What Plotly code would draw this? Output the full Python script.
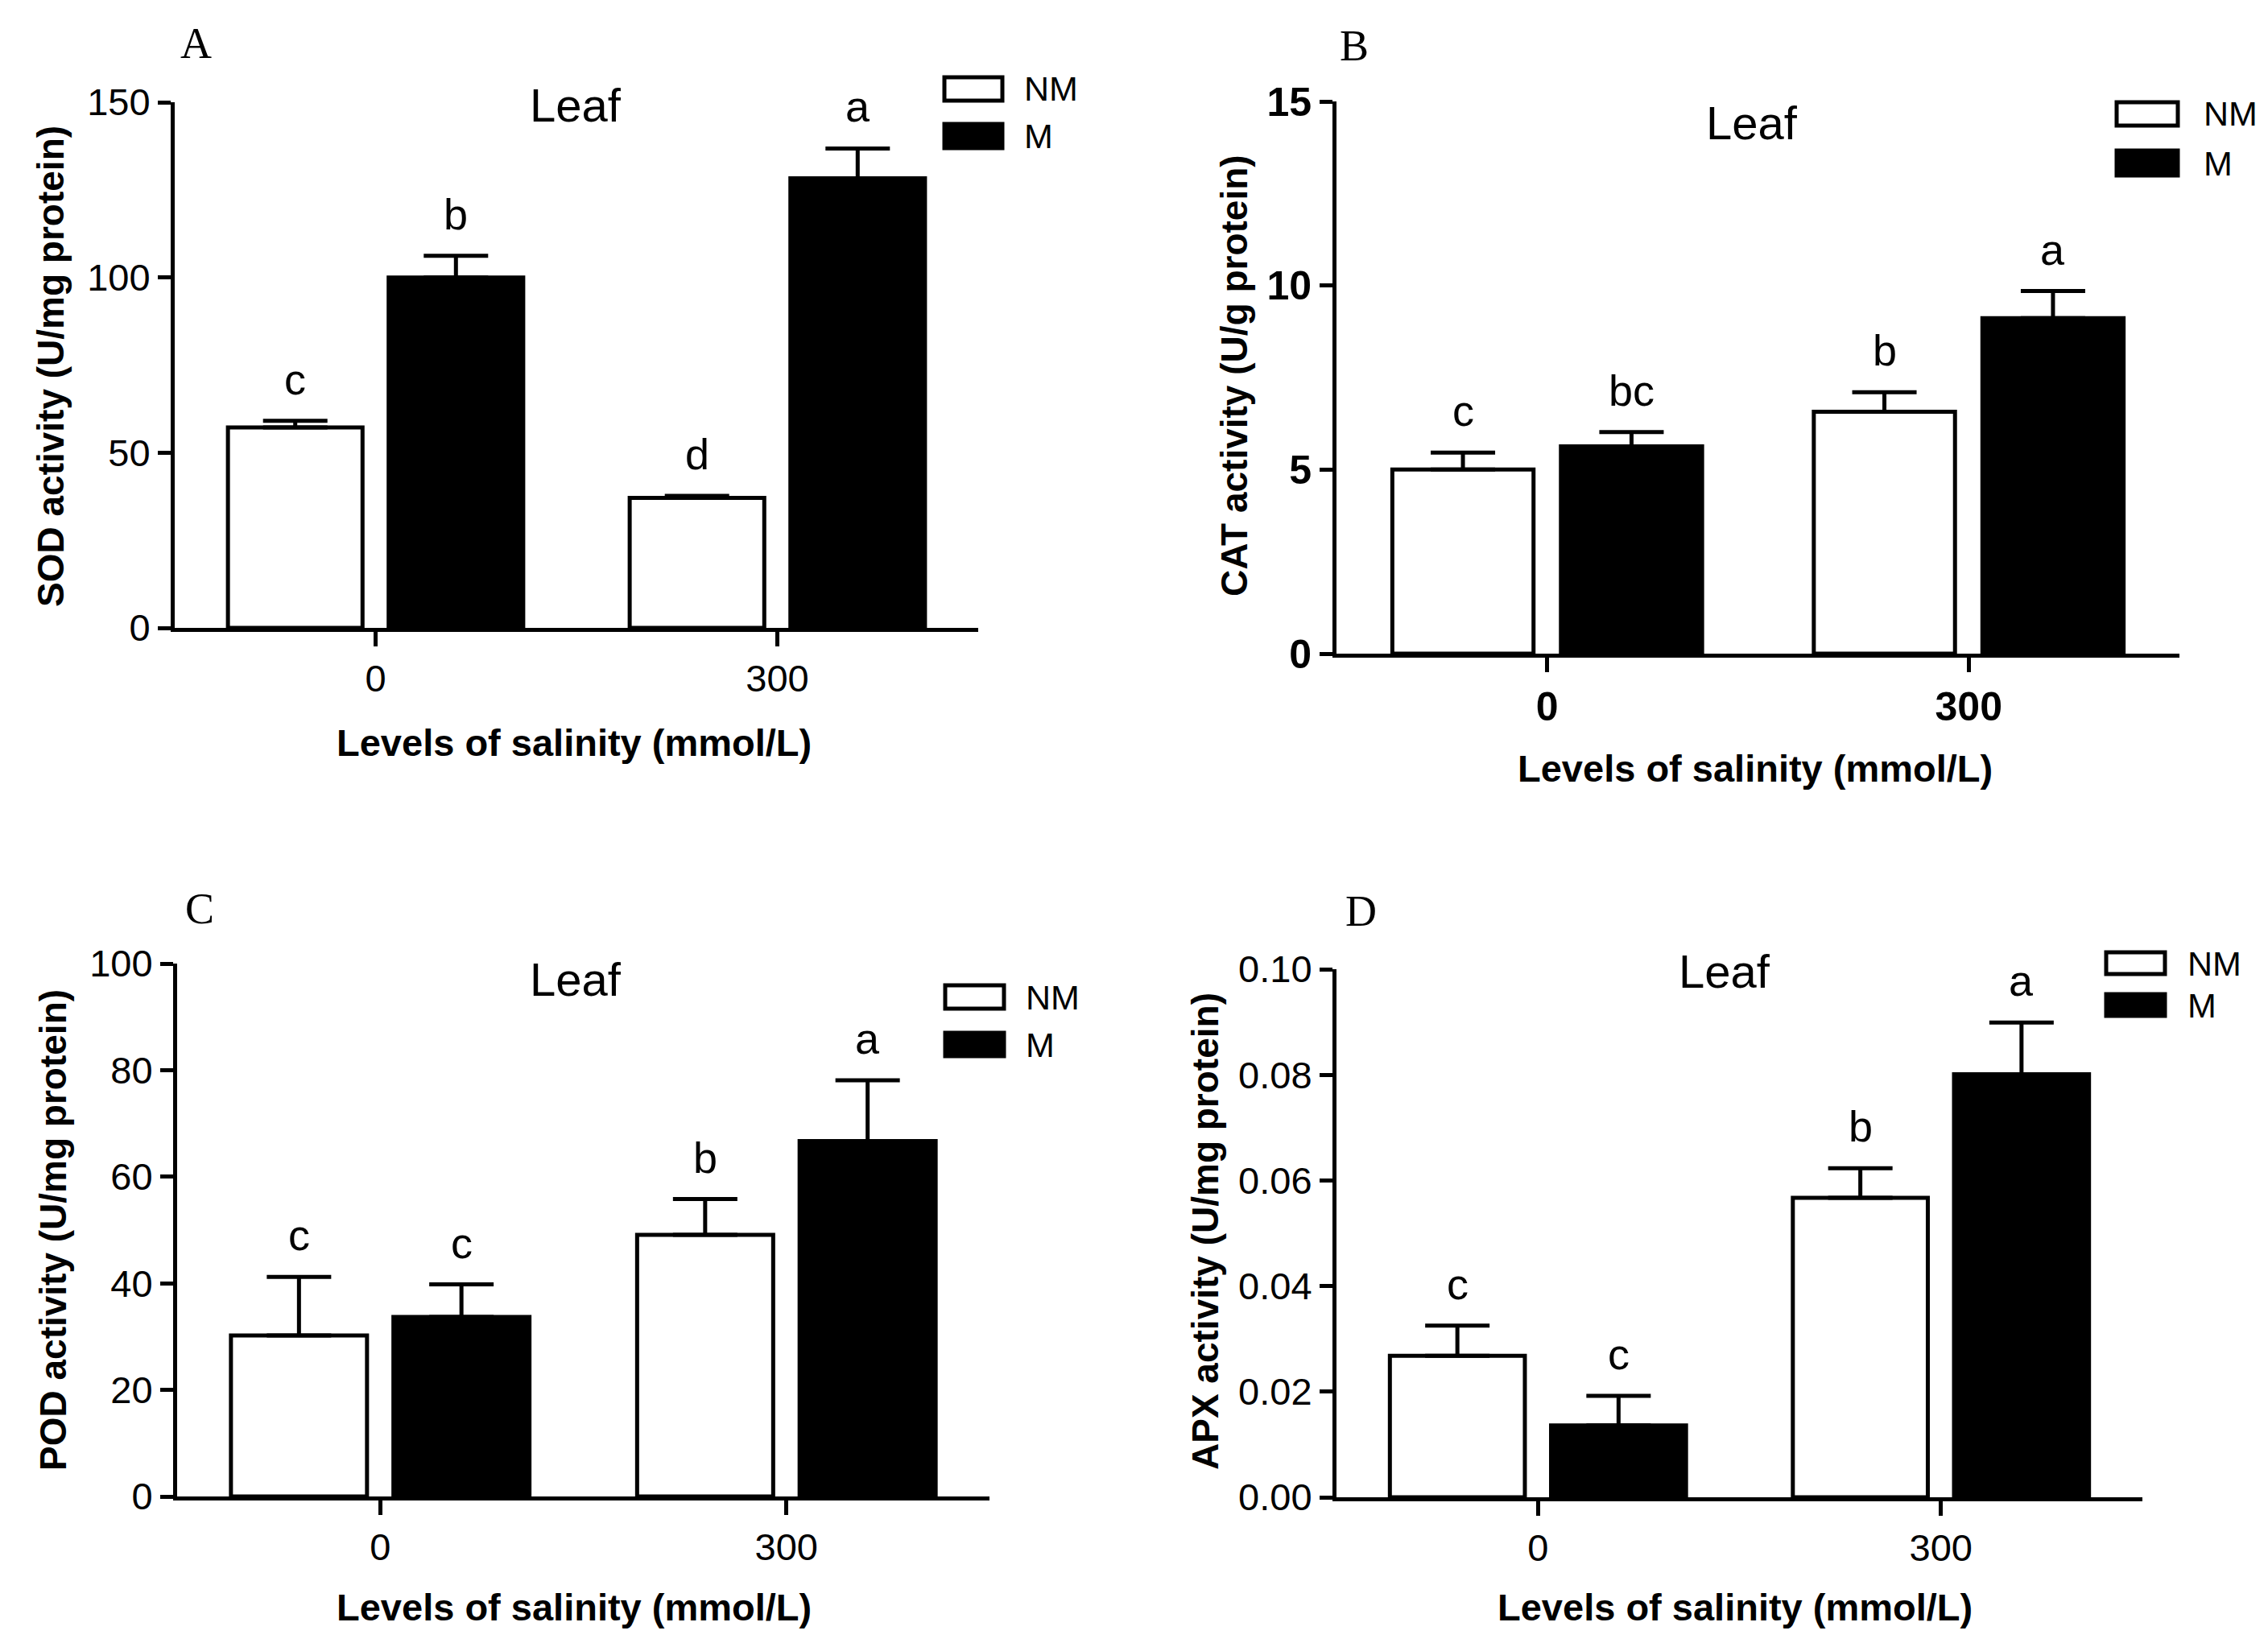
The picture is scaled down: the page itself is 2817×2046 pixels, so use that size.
import plotly.graph_objects as go

# salinity levels on the x axis
levels = ["0", "300"]
groups = ["NM", "M"]

# A: SOD
sod_nm = [57.2, 37.1]
sod_nm_err = [1.9, 0.6]
sod_m = [100.0, 128.3]
sod_m_err = [6.2, 8.5]
sod_let_nm = ["c", "d"]
sod_let_m = ["b", "a"]

# B: CAT
cat_nm = [5.0, 6.57]
cat_nm_err = [0.46, 0.53]
cat_m = [5.63, 9.11]
cat_m_err = [0.39, 0.74]
cat_let_nm = ["c", "b"]
cat_let_m = ["bc", "a"]

# C: POD
pod_nm = [30.2, 49.1]
pod_nm_err = [11.0, 6.7]
pod_m = [33.7, 66.7]
pod_m_err = [6.1, 11.4]
pod_let_nm = ["c", "b"]
pod_let_m = ["c", "a"]

# D: APX
apx_nm = [0.0268, 0.0567]
apx_nm_err = [0.0057, 0.0056]
apx_m = [0.0136, 0.0801]
apx_m_err = [0.0056, 0.0098]
apx_let_nm = ["c", "b"]
apx_let_m = ["c", "a"]

W, H = 2817, 2046
PAGE_PAD = 8  # default body margin of the html page
SANS = "Liberation Sans, Arial, sans-serif"
SERIF = "Liberation Serif, Times New Roman, serif"


def px(x):
    return (x - PAGE_PAD) / W


def py(y):
    return 1 - (y - PAGE_PAD) / H


panels = [
    dict(tag="A", nm=sod_nm, nm_err=sod_nm_err, m=sod_m, m_err=sod_m_err,
         let_nm=sod_let_nm, let_m=sod_let_m, yrange=[0, 150], dtick=50, fmt="",
         ytitle="SOD activity (U/mg protein)", tickbold=False,
         xdom=(217, 1215), ydom=(780, 127), lab=(243, 54), leaf=(715, 131),
         legx=(1173, 1245), leg_nm=(96, 125), leg_m=(154, 184), legtx=1270,
         yt=(63, 455), xt=(713, 922)),
    dict(tag="B", nm=cat_nm, nm_err=cat_nm_err, m=cat_m, m_err=cat_m_err,
         let_nm=cat_let_nm, let_m=cat_let_m, yrange=[0, 15], dtick=5, fmt="",
         ytitle="CAT activity (U/g protein)", tickbold=True,
         xdom=(1660, 2707), ydom=(812, 126), lab=(1682, 57), leaf=(2176, 152),
         legx=(2629, 2705), leg_nm=(127, 156), leg_m=(187, 218), legtx=2735,
         yt=(1533, 467), xt=(2180, 954)),
    dict(tag="C", nm=pod_nm, nm_err=pod_nm_err, m=pod_m, m_err=pod_m_err,
         let_nm=pod_let_nm, let_m=pod_let_m, yrange=[0, 100], dtick=20, fmt="",
         ytitle="POD activity (U/mg protein)", tickbold=False,
         xdom=(220, 1229), ydom=(1859, 1197), lab=(248, 1129), leaf=(715, 1216),
         legx=(1174, 1247), leg_nm=(1224, 1253), leg_m=(1283, 1312), legtx=1272,
         yt=(66, 1528), xt=(713, 1996)),
    dict(tag="D", nm=apx_nm, nm_err=apx_nm_err, m=apx_m, m_err=apx_m_err,
         let_nm=apx_let_nm, let_m=apx_let_m, yrange=[0, 0.10], dtick=0.02, fmt=".2f",
         ytitle="APX activity (U/mg protein)", tickbold=False,
         xdom=(1660, 2661), ydom=(1860, 1204), lab=(1690, 1132), leaf=(2142, 1206),
         legx=(2616, 2689), leg_nm=(1183, 1210), leg_m=(1235, 1262), legtx=2715,
         yt=(1497, 1530), xt=(2155, 1996)),
]

offset = 0.2
bar_w = 0.335

fig = go.Figure()
annotations = []
shapes = []
layout_axes = {}

for k, p in enumerate(panels):
    sfx = "" if k == 0 else str(k + 1)
    xa, ya = "x" + sfx, "y" + sfx
    pos = list(range(len(levels)))
    x_nm = [i - offset for i in pos]
    x_m = [i + offset for i in pos]

    fig.add_trace(go.Bar(
        x=x_nm, y=p["nm"], width=bar_w, xaxis=xa, yaxis=ya, name=groups[0],
        marker=dict(color="white", line=dict(color="black", width=5)),
        error_y=dict(type="data", symmetric=False, array=p["nm_err"],
                     arrayminus=[0] * len(pos), color="black", thickness=5, width=40),
        showlegend=False))
    fig.add_trace(go.Bar(
        x=x_m, y=p["m"], width=bar_w, xaxis=xa, yaxis=ya, name=groups[1],
        marker=dict(color="black", line=dict(color="black", width=5)),
        error_y=dict(type="data", symmetric=False, array=p["m_err"],
                     arrayminus=[0] * len(pos), color="black", thickness=5, width=40),
        showlegend=False))

    tick_font = dict(family=SANS, size=50 if p["tickbold"] else 47,
                     color="black", weight="bold" if p["tickbold"] else "normal")

    layout_axes["xaxis" + sfx] = dict(
        domain=[px(p["xdom"][0]), px(p["xdom"][1])], anchor=ya,
        range=[-0.5, 1.5], tickvals=pos, ticktext=levels,
        showline=True, linecolor="black", linewidth=5,
        ticks="outside", ticklen=18, tickwidth=5, tickcolor="black",
        showgrid=False, zeroline=False, tickfont=tick_font, fixedrange=True)
    layout_axes["yaxis" + sfx] = dict(
        domain=[py(p["ydom"][0]), py(p["ydom"][1])], anchor=xa,
        range=p["yrange"], dtick=p["dtick"], tick0=0, tickformat=p["fmt"],
        showline=True, linecolor="black", linewidth=5,
        ticks="outside", ticklen=16, tickwidth=5, tickcolor="black",
        showgrid=False, zeroline=False, tickfont=tick_font, fixedrange=True)

    # significance letters
    for xs, vals, errs, lets in ((x_nm, p["nm"], p["nm_err"], p["let_nm"]),
                                 (x_m, p["m"], p["m_err"], p["let_m"])):
        for xv, v, e, t in zip(xs, vals, errs, lets):
            annotations.append(dict(
                x=xv, y=v + e, xref=xa, yref=ya, text=t, showarrow=False,
                yanchor="bottom", yshift=20,
                font=dict(family=SANS, size=54, color="black")))

    def note(xy, text, size, family=SANS, angle=0, weight="normal", xanchor="center"):
        annotations.append(dict(x=px(xy[0]), y=py(xy[1]), xref="paper", yref="paper",
                                text=text, showarrow=False, textangle=angle,
                                xanchor=xanchor, yanchor="middle",
                                font=dict(family=family, size=size, color="black", weight=weight)))

    # panel letter, title, axis titles
    note(p["lab"], p["tag"], 54, family=SERIF)
    note(p["leaf"], "Leaf", 58)
    note(p["yt"], p["ytitle"], 46, angle=-90, weight="bold")
    note(p["xt"], "Levels of salinity (mmol/L)", 47, weight="bold")

    # legend boxes
    for (y0, y1), fill, label in ((p["leg_nm"], "white", groups[0]),
                                  (p["leg_m"], "black", groups[1])):
        shapes.append(dict(type="rect", xref="paper", yref="paper",
                           x0=px(p["legx"][0]), x1=px(p["legx"][1]),
                           y0=py(y1), y1=py(y0), fillcolor=fill,
                           line=dict(color="black", width=5)))
        note((p["legtx"], (y0 + y1) / 2), label, 43, xanchor="left")

fig.update_layout(
    width=W, height=H,
    margin=dict(l=0, r=0, t=0, b=0, autoexpand=False),
    paper_bgcolor="white", plot_bgcolor="white",
    barmode="overlay", showlegend=False,
    annotations=annotations, shapes=shapes,
    **layout_axes)

fig.write_html("out.html")
